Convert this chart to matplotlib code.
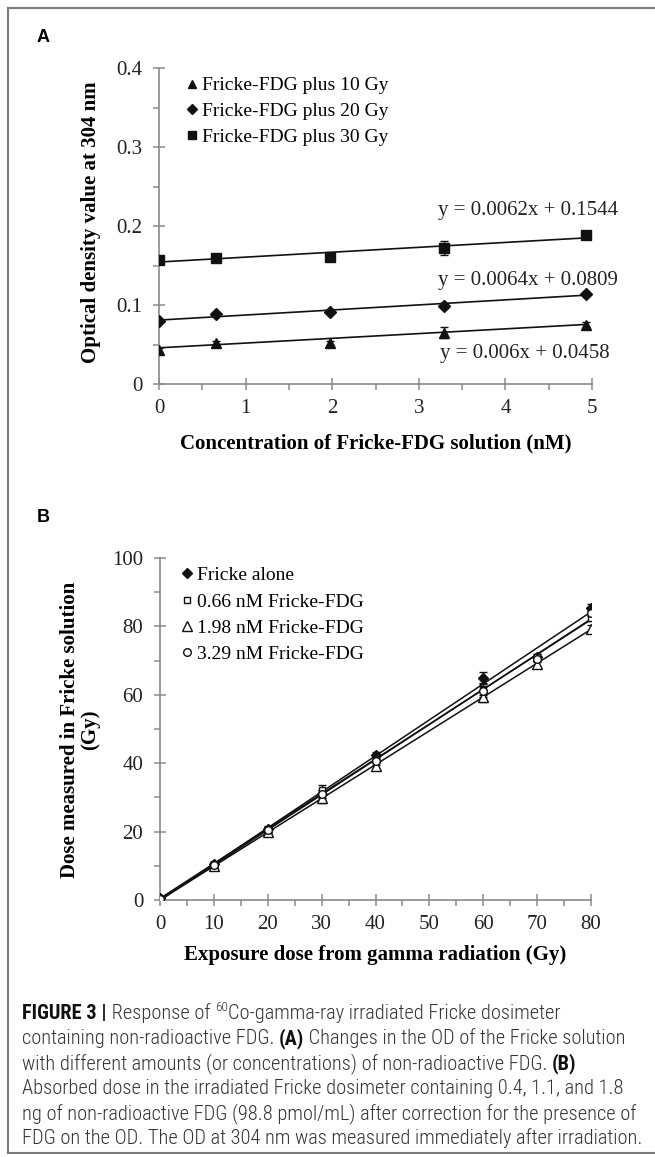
import numpy as np
import matplotlib
matplotlib.use("Agg")
import matplotlib.pyplot as plt
from matplotlib import font_manager
from matplotlib.lines import Line2D

# ---- Panel A data: OD at 304 nm vs FDG concentration ----
conc_nm = [0, 0.66, 1.98, 3.29, 4.93]
od_10gy = [0.043, 0.052, 0.052, 0.065, 0.075]
od_20gy = [0.080, 0.088, 0.091, 0.099, 0.114]
od_30gy = [0.157, 0.160, 0.161, 0.172, 0.189]
err_10gy = [0.003, 0.003, 0.003, 0.007, 0.003]
err_20gy = [0.002, 0.002, 0.003, 0.003, 0.002]
err_30gy = [0.002, 0.002, 0.003, 0.009, 0.002]
labels_a = ["Fricke-FDG plus 10 Gy", "Fricke-FDG plus 20 Gy", "Fricke-FDG plus 30 Gy"]
fit_slopes = [0.006, 0.0064, 0.0062]
fit_intercepts = [0.0458, 0.0809, 0.1544]
fit_texts = ["y = 0.006x + 0.0458", "y = 0.0064x + 0.0809", "y = 0.0062x + 0.1544"]

# ---- Panel B data: measured dose vs exposure dose ----
exposure_gy = [0, 10, 20, 30, 40, 60, 70, 80]
dose_alone = [0.5, 10.5, 20.8, 31.0, 42.3, 65.0, 71.0, 85.5]
dose_066 = [0.3, 10.5, 20.5, 32.3, 41.0, 61.5, 71.0, 82.5]
dose_198 = [0.0, 10.0, 19.8, 29.8, 39.3, 59.5, 69.0, 79.3]
dose_329 = [0.3, 10.3, 20.5, 31.0, 40.5, 61.0, 70.5, 84.0]
err_b = [0.4, 0.7, 0.8, 1.3, 1.0, 1.6, 0.8, 1.0]
labels_b = ["Fricke alone", "0.66 nM Fricke-FDG", "1.98 nM Fricke-FDG", "3.29 nM Fricke-FDG"]

W, H = 655, 1157
SERIF = "Liberation Serif"
GRAY = "#8a8a8a"

fig = plt.figure(figsize=(W / 100, H / 100), dpi=100)
renderer = fig.canvas.get_renderer()


def fx(px):
    return px / W


def fy(py):
    return 1 - py / H


def style_axes(ax):
    for side in ["top", "right"]:
        ax.spines[side].set_visible(False)
    for side in ["left", "bottom"]:
        ax.spines[side].set_color(GRAY)
        ax.spines[side].set_linewidth(1.2)
    ax.tick_params(which="major", direction="inout", length=9, width=1.1,
                   color=GRAY, labelsize=15, labelcolor="#222")
    ax.tick_params(which="minor", direction="out", length=4.5, width=1.1, color=GRAY)
    ax.tick_params(axis="x", which="major", pad=6)
    ax.tick_params(axis="y", which="major", pad=7.5)
    for lab in ax.get_xticklabels() + ax.get_yticklabels():
        lab.set_fontfamily(SERIF)


# ---- Panel A ----
axA = fig.add_axes([fx(159), fy(384), fx(592) - fx(159), fy(68) - fy(384)])
axA.set_xlim(0, 5)
axA.set_ylim(0, 0.4)
axA.set_xticks(np.arange(0, 6, 1))
axA.set_xticks(np.arange(0.5, 5, 1), minor=True)
axA.set_yticks([0, 0.1, 0.2, 0.3, 0.4])
axA.set_yticklabels(["0", "0.1", "0.2", "0.3", "0.4"])
axA.set_yticks([0.05, 0.15, 0.25, 0.35], minor=True)
style_axes(axA)

series_a = [od_10gy, od_20gy, od_30gy]
errs_a = [err_10gy, err_20gy, err_30gy]
markers_a = [("^", 7.5), ("D", 6), ("s", 6.5)]
xfit = np.array([conc_nm[0], conc_nm[-1]])
for vals, errs, (mk, ms), lab, m, b in zip(series_a, errs_a, markers_a, labels_a,
                                          fit_slopes, fit_intercepts):
    axA.plot(xfit, m * xfit + b, color="#111", lw=1.2, zorder=2)
    axA.errorbar(conc_nm, vals, yerr=errs, fmt="none", ecolor="#111",
                 elinewidth=1, capsize=3, zorder=3)
    axA.plot(conc_nm, vals, ls="none", marker=mk, ms=ms, color="#111",
             label=lab, zorder=4)

eq_pos = [(3.25, 0.039), (3.22, 0.1316), (3.22, 0.220)]
for (ex, ey), txt in zip(eq_pos, fit_texts):
    axA.text(ex, ey, txt, fontsize=15, family=SERIF, color="#222", va="center")

axA.legend(loc="upper left", bbox_to_anchor=(0.062, 0.972), frameon=False,
           prop={"family": SERIF, "size": 14}, handlelength=0.6,
           handletextpad=0.25, labelspacing=0.42, borderpad=0, borderaxespad=0,
           markerscale=0.85)
axA.set_xlabel("Concentration of Fricke-FDG solution (nM)", family=SERIF,
               fontsize=15, fontweight="bold", va="center")
axA.xaxis.set_label_coords(0.5, -0.187)
axA.set_ylabel("Optical density value at 304 nm", family=SERIF, fontsize=15,
               fontweight="bold", va="center")
axA.yaxis.set_label_coords(-0.157, 0.513)

# ---- Panel B ----
axB = fig.add_axes([fx(160), fy(900), fx(591) - fx(160), fy(558) - fy(900)])
axB.set_xlim(0, 80)
axB.set_ylim(0, 100)
axB.set_xticks(np.arange(0, 90, 10))
axB.set_xticks(np.arange(5, 80, 10), minor=True)
axB.set_yticks(np.arange(0, 120, 20))
axB.set_yticks(np.arange(10, 100, 20), minor=True)
style_axes(axB)

series_b = [dose_alone, dose_066, dose_198, dose_329]
markers_b = [("D", 5.5, "#111"), ("s", 5, "white"), ("^", 7, "white"), ("o", 5.5, "white")]
xb = np.array(exposure_gy, dtype=float)
for vals, (mk, ms, fc), lab in zip(series_b, markers_b, labels_b):
    m, b = np.polyfit(xb, vals, 1)
    axB.plot([0, 80], [b, m * 80 + b], color="#111", lw=1.1, zorder=2)
    axB.errorbar(xb, vals, yerr=err_b, fmt="none", ecolor="#111",
                 elinewidth=1, capsize=3, zorder=3)
    axB.plot(xb, vals, ls="none", marker=mk, ms=ms, mfc=fc, mec="#111",
             mew=1, label=lab, zorder=4)

axB.legend(loc="upper left", bbox_to_anchor=(0.05, 0.975), frameon=False,
           prop={"family": SERIF, "size": 14}, handlelength=0.6,
           handletextpad=0.2, labelspacing=0.45, borderpad=0, borderaxespad=0)
axB.set_xlabel("Exposure dose from gamma radiation (Gy)", family=SERIF,
               fontsize=15, fontweight="bold", va="center")
axB.xaxis.set_label_coords(0.5, -0.161)
axB.set_ylabel("Dose measured in Fricke solution\n(Gy)", family=SERIF,
               fontsize=15, fontweight="bold", va="center", linespacing=1.0)
axB.yaxis.set_label_coords(-0.186, 0.497)

# ---- panel letters ----
fig.text(fx(37), fy(38), "A", family="Liberation Sans", fontweight="bold",
         fontsize=13, va="center", ha="left")
fig.text(fx(37), fy(518), "B", family="Liberation Sans", fontweight="bold",
         fontsize=13, va="center", ha="left")

# ---- frame ----
for xs, ys in [([8, 8], [8, 1153]), ([8, 655], [8, 8]), ([8, 655], [1153, 1153])]:
    fig.add_artist(Line2D([fx(v) for v in xs], [fy(v) for v in ys],
                          color="#7a7a7a", lw=1.5))

# ---- caption ----
names = {f.name for f in font_manager.fontManager.ttflist}
cap_font = "Liberation Sans"
for cand in ["Liberation Sans Narrow", "Roboto Condensed", "Roboto", "Liberation Sans"]:
    if cand in names:
        cap_font = cand
        break

caption = [
    [("FIGURE 3 |", "bold", 0), (" Response of ", "light", 0), ("60", "light", 1),
     ("Co-gamma-ray irradiated Fricke dosimeter", "light", 0)],
    [("containing non-radioactive FDG. ", "light", 0), ("(A)", "bold", 0),
     (" Changes in the OD of the Fricke solution", "light", 0)],
    [("with different amounts (or concentrations) of non-radioactive FDG. ", "light", 0),
     ("(B)", "bold", 0)],
    [("Absorbed dose in the irradiated Fricke dosimeter containing 0.4, 1.1, and 1.8",
      "light", 0)],
    [("ng of non-radioactive FDG (98.8 pmol/mL) after correction for the presence of",
      "light", 0)],
    [("FDG on the OD. The OD at 304 nm was measured immediately after irradiation.",
      "light", 0)],
]


def run_width(s, size, weight):
    t1 = fig.text(0, 0, "x" + s + "x", family=cap_font, fontsize=size, fontweight=weight)
    t2 = fig.text(0, 0, "xx", family=cap_font, fontsize=size, fontweight=weight)
    w = t1.get_window_extent(renderer).width - t2.get_window_extent(renderer).width
    t1.remove()
    t2.remove()
    return w


base = 13.0
w_last = run_width(caption[-1][0][0], base, "light")
cap_size = base * 615 / w_last

baselines = [1019, 1044, 1069, 1094, 1119, 1144]
for line, yb in zip(caption, baselines):
    x = 22.0
    for s, weight, sup in line:
        size = cap_size * (0.65 if sup else 1.0)
        y = yb - (cap_size * 0.55 if sup else 0)
        fig.text(fx(x), fy(y), s, family=cap_font, fontsize=size, fontweight=weight,
                 color="#111" if weight == "bold" else "#333", va="baseline", ha="left")
        x += run_width(s, size, weight)

fig.savefig("out.png", dpi=100)
